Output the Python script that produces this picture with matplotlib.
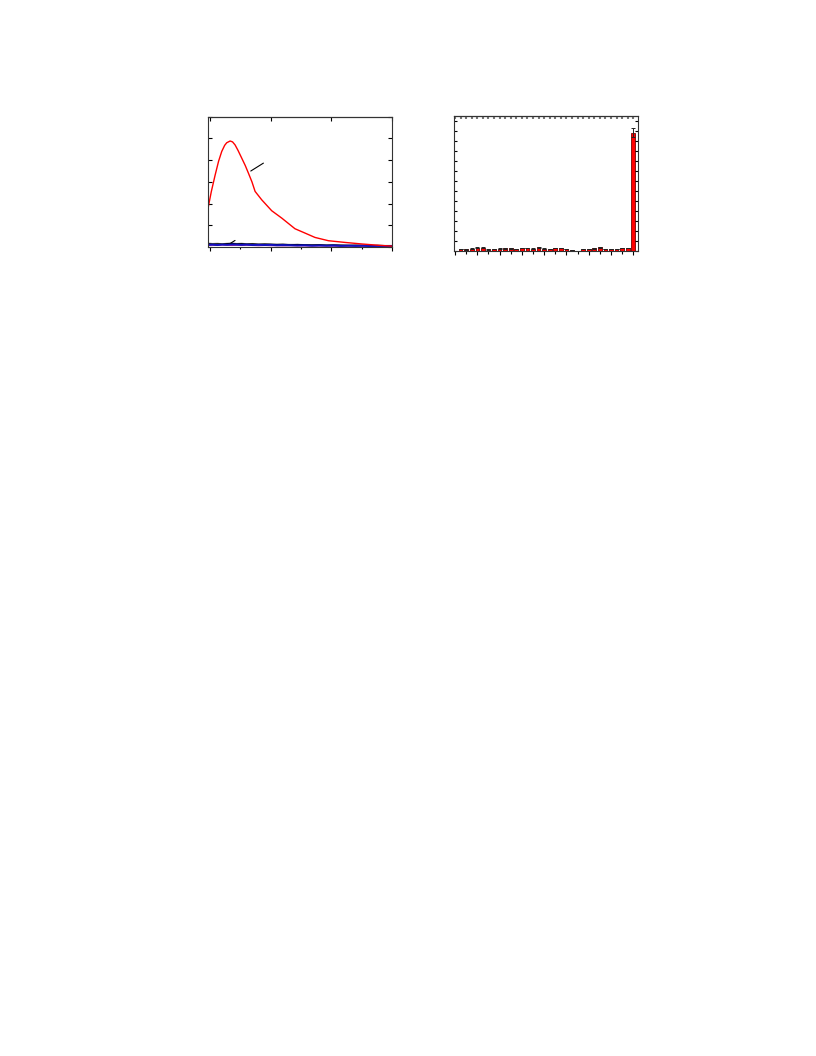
import matplotlib
matplotlib.use("Agg")
import matplotlib.pyplot as plt
from matplotlib.ticker import MultipleLocator

# ---- left panel data ----
wl_red = [448.6, 451.0, 454.1, 457.0, 459.6, 462.0, 463.7, 466.5, 468.5, 470.6, 473.0, 476.1,
          479.0, 481.6, 484.5, 487.1, 492.6, 500.8, 509.1, 520.0, 528.3, 536.5, 547.5,
          561.3, 575.0, 588.7, 599.7]
int_red = [1.87, 2.55, 3.30, 3.95, 4.40, 4.68, 4.80, 4.88, 4.84, 4.70, 4.45, 4.09,
           3.75, 3.40, 3.00, 2.56, 2.17, 1.67, 1.33, 0.84, 0.64, 0.44, 0.29,
           0.21, 0.14, 0.08, 0.04]

wl_base = [448.6, 452, 456, 460, 464, 468, 472, 476, 480, 485, 490, 495, 500, 505, 510,
           516, 522, 528, 534, 540, 546, 552, 558, 564, 570, 576, 582, 588, 594, 600]
int_black = [0.15, 0.13, 0.14, 0.13, 0.15, 0.16, 0.14, 0.15, 0.13, 0.14, 0.12, 0.13, 0.12,
             0.11, 0.12, 0.10, 0.11, 0.10, 0.09, 0.10, 0.08, 0.09, 0.08, 0.07, 0.08,
             0.07, 0.06, 0.07, 0.06, 0.06]
int_blue = [0.10, 0.11, 0.09, 0.11, 0.10, 0.12, 0.11, 0.10, 0.11, 0.09, 0.10, 0.09, 0.10,
            0.08, 0.09, 0.08, 0.07, 0.08, 0.06, 0.07, 0.06, 0.07, 0.05, 0.06, 0.05,
            0.06, 0.04, 0.05, 0.04, 0.04]
int_purple = [0.07, 0.08, 0.07, 0.09, 0.08, 0.07, 0.08, 0.07, 0.08, 0.07, 0.06, 0.07, 0.06,
              0.06, 0.05, 0.06, 0.05, 0.05, 0.04, 0.05, 0.04, 0.04, 0.03, 0.04, 0.03,
              0.03, 0.03, 0.02, 0.03, 0.02]
int_gray = [0.18, 0.16, 0.17, 0.15, 0.17, 0.18, 0.16, 0.17, 0.15, 0.16, 0.14, 0.15, 0.14,
            0.13, 0.13, 0.12, 0.12, 0.11, 0.11, 0.11, 0.10, 0.10, 0.09, 0.09, 0.08,
            0.08, 0.08, 0.07, 0.07, 0.07]

# ---- right panel data ----
bar_pos = list(range(1, 33))
bar_vals = [0.17, 0.13, 0.20, 0.30, 0.30, 0.13, 0.17, 0.20, 0.23, 0.23, 0.17, 0.27, 0.27,
            0.20, 0.33, 0.20, 0.17, 0.27, 0.27, 0.17, 0.07, 0.00, 0.17, 0.17, 0.23, 0.33,
            0.17, 0.17, 0.17, 0.27, 0.27, 11.78]
bar_err = [0.03, 0.02, 0.03, 0.04, 0.04, 0.02, 0.03, 0.03, 0.03, 0.03, 0.02, 0.04, 0.04,
           0.03, 0.05, 0.03, 0.02, 0.04, 0.04, 0.02, 0.02, 0.00, 0.02, 0.02, 0.03, 0.05,
           0.02, 0.02, 0.02, 0.04, 0.04, 0.45]

fig = plt.figure(figsize=(8.16, 10.56), dpi=100)

# Left panel
ax1 = fig.add_axes([0.2545, 0.7661, 0.2259, 0.1234])
ax1.plot(wl_base, int_gray, color="#888888", lw=0.8)
ax1.plot(wl_base, int_black, color="black", lw=1.0)
ax1.plot(wl_base, int_purple, color="#a020a0", lw=0.8)
ax1.plot(wl_base, int_blue, color="#1010c0", lw=1.4)
ax1.plot(wl_red, int_red, color="red", lw=1.0)
ax1.annotate("", xy=(481.6, 3.43), xytext=(495.9, 3.93),
             arrowprops=dict(arrowstyle="-", color="black", lw=0.8))
ax1.annotate("", xy=(465.1, 0.11), xytext=(472.5, 0.37),
             arrowprops=dict(arrowstyle="-", color="black", lw=0.8))
ax1.set_xlim(448, 600)
ax1.set_ylim(0, 6)
ax1.xaxis.set_major_locator(MultipleLocator(50))
ax1.xaxis.set_minor_locator(MultipleLocator(25))
ax1.yaxis.set_major_locator(MultipleLocator(1))
ax1.tick_params(axis="x", which="both", direction="out", bottom=True, top=False,
                labelbottom=False, length=3, width=0.8)
ax1.tick_params(axis="x", which="minor", length=1.5)
ax1.tick_params(axis="y", which="both", direction="in", left=True, right=True,
                labelleft=False, length=3, width=0.8)
ax1.secondary_xaxis("top").tick_params(direction="in", labeltop=False, length=3, width=0.8)
for s in ax1.spines.values():
    s.set_linewidth(0.8)
    s.set_color("#333333")

# Right panel
ax2 = fig.add_axes([0.5567, 0.7626, 0.2255, 0.1276])
ax2.bar(bar_pos, bar_vals, width=0.65, color="red", edgecolor="#7a0000", linewidth=0.6,
        yerr=bar_err, error_kw=dict(ecolor="#222222", elinewidth=0.7, capsize=1.5, capthick=0.7))
ax2.set_xlim(-0.14, 32.9)
ax2.set_ylim(0, 13.47)
ax2.xaxis.set_major_locator(MultipleLocator(4))
ax2.xaxis.set_minor_locator(MultipleLocator(2))
ax2.yaxis.set_major_locator(MultipleLocator(2))
ax2.yaxis.set_minor_locator(MultipleLocator(1))
ax2.tick_params(axis="x", which="major", direction="out", bottom=True, top=False,
                labelbottom=False, length=3, width=0.8)
ax2.tick_params(axis="x", which="minor", direction="out", bottom=True, top=False, length=2, width=0.8)
ax2.tick_params(axis="y", which="both", direction="in", left=True, right=True,
                labelleft=False, length=2, width=0.8)
top2 = ax2.secondary_xaxis("top")
top2.xaxis.set_major_locator(MultipleLocator(1))
top2.tick_params(direction="in", labeltop=False, length=2, width=1.5, color="#777777")
for s in ax2.spines.values():
    s.set_linewidth(0.8)
    s.set_color("#333333")

fig.savefig("out.png", dpi=100)
